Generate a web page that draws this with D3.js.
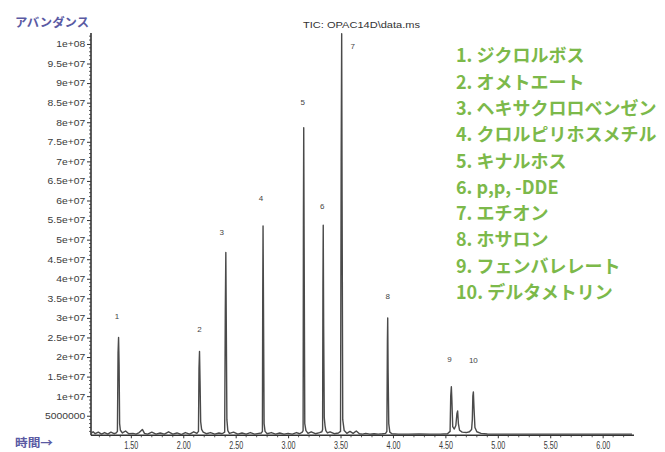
<!DOCTYPE html>
<html><head><meta charset="utf-8">
<script src="https://cdn.jsdelivr.net/npm/d3@7"></script>
<style>
html,body{margin:0;padding:0;background:#fff;}
svg{display:block;}
</style></head>
<body>
<svg id="chart" width="665" height="452"></svg>
<script>
// ---- data (abundance in millions of counts, time in minutes) ----
const compounds = ["ジクロルボス","オメトエート","ヘキサクロロベンゼン","クロルピリホスメチル","キナルホス","p,p, -DDE","エチオン","ホサロン","フェンバレレート","デルタメトリン"];
const peakIds = ["1","2","3","4","5","6","7","8","9","10"];
const peakTimes = [1.383,2.155,2.406,2.761,3.149,3.335,3.511,3.950,4.557,4.767];
const peakHeights = [25.0,21.4,46.7,53.5,78.6,53.7,102.6,30.0,12.4,11.1];
const yTickValues = [5,10,15,20,25,30,35,40,45,50,55,60,65,70,75,80,85,90,95,100];
const yTickLabels = ["5000000","1e+07","1.5e+07","2e+07","2.5e+07","3e+07","3.5e+07","4e+07","4.5e+07","5e+07","5.5e+07","6e+07","6.5e+07","7e+07","7.5e+07","8e+07","8.5e+07","9e+07","9.5e+07","1e+08"];
const xTickValues = [1.5,2.0,2.5,3.0,3.5,4.0,4.5,5.0,5.5,6.0];
const xTickLabels = ["1.50","2.00","2.50","3.00","3.50","4.00","4.50","5.00","5.50","6.00"];
const trace = [
[1.12,0.5],[1.14,0.9],[1.16,0.4],[1.19,0.8],[1.22,0.3],[1.25,0.7],[1.28,0.3],[1.31,0.8],[1.34,0.4],[1.36,0.6],
[1.372,1.0],[1.378,21],[1.383,25.0],[1.388,18],[1.393,3],[1.40,1.3],[1.42,0.6],[1.45,1.1],[1.48,0.4],[1.52,0.5],
[1.55,0.3],[1.58,0.7],[1.61,1.5],[1.63,0.5],[1.66,0.3],[1.70,0.8],[1.74,0.3],[1.78,0.6],[1.82,0.3],[1.86,0.9],
[1.90,0.3],[1.94,0.6],[1.98,0.2],[2.02,0.7],[2.06,0.3],[2.10,0.9],[2.13,0.5],[2.145,1.0],[2.150,17],[2.155,21.4],
[2.160,14],[2.166,3.5],[2.175,1.5],[2.19,0.8],[2.22,0.4],[2.26,0.7],[2.30,0.3],[2.34,0.6],[2.37,0.4],[2.395,0.8],
[2.401,32],[2.406,46.7],[2.410,30],[2.416,4],[2.425,1.2],[2.44,0.5],[2.48,0.8],[2.52,0.3],[2.56,0.6],[2.60,0.3],
[2.64,0.7],[2.68,0.3],[2.72,0.5],[2.745,0.6],[2.755,1.0],[2.758,36],[2.761,53.5],[2.765,34],[2.771,3],[2.78,1.0],
[2.80,0.4],[2.84,0.7],[2.88,0.3],[2.92,0.6],[2.96,0.3],[3.00,0.5],[3.04,0.3],[3.08,0.7],[3.11,0.4],[3.135,0.8],
[3.143,1.2],[3.146,55],[3.149,78.6],[3.153,48],[3.159,3],[3.17,1.2],[3.19,0.5],[3.22,0.9],[3.26,0.4],[3.30,0.7],
[3.322,0.9],[3.329,1.5],[3.332,38],[3.335,53.7],[3.339,28],[3.345,4.5],[3.352,2.5],[3.36,1.2],[3.375,0.6],[3.40,0.9],
[3.44,0.4],[3.48,0.6],[3.500,1.0],[3.506,70],[3.511,102.6],[3.515,60],[3.521,4],[3.535,1.2],[3.56,0.5],[3.59,1.0],
[3.62,0.5],[3.65,1.1],[3.68,0.4],[3.71,0.3],[3.74,0.5],[3.78,0.3],[3.82,0.4],[3.86,0.3],[3.90,0.4],[3.93,0.5],
[3.942,1.0],[3.947,24],[3.950,30.0],[3.954,16],[3.960,3],[3.97,0.8],[3.99,0.4],[4.05,0.3],[4.15,0.3],[4.25,0.35],
[4.35,0.3],[4.45,0.3],[4.52,0.4],[4.545,1.0],[4.551,10],[4.557,12.4],[4.562,9],[4.57,2.2],[4.585,1.6],[4.600,2.5],
[4.610,5.5],[4.617,6.2],[4.624,3],[4.635,1.3],[4.66,0.8],[4.70,0.7],[4.73,0.9],[4.75,1.5],[4.757,4],[4.762,10],
[4.767,11.1],[4.773,7],[4.782,2],[4.80,0.9],[4.84,0.5],[4.90,0.35],[5.00,0.3],[5.20,0.3],[5.40,0.3],[5.60,0.3],
[5.80,0.3],[6.00,0.3],[6.20,0.3],[6.28,0.3]
];
const titleText = "TIC: OPAC14D\\data.ms";
const yAxisTitle = "アバンダンス";
const xAxisTitle = "時間→";

// ---- drawing ----
(function draw(){
const svg = d3.select("#chart");
const pLeft = 91, pRight = 632, pTop = 33, pBottom = 435.3;
const x = d3.scaleLinear().domain([1.12, 6.28]).range([pLeft, pRight]);
const y = d3.scaleLinear().domain([0, 102.8]).range([pBottom, pTop]);
const axisColor = "#333";
const purple = "#5a5aa3";

// y axis
const yAxis = svg.append("g").attr("transform", `translate(${pLeft},0)`)
  .call(d3.axisLeft(y).tickValues(yTickValues).tickSize(4).tickFormat((d,i)=>yTickLabels[i]));
yAxis.select(".domain").remove();
yAxis.selectAll(".tick line").attr("stroke", axisColor).attr("stroke-width", 1);
yAxis.selectAll(".tick text")
  .attr("font-family", "Liberation Sans, Arial, sans-serif").attr("font-size", 9)
  .attr("fill", "#3a3a3a").attr("x", -5)
  .attr("transform", "scale(1.15,1)");
// minor ticks
const minorY = d3.range(1, 103, 1).filter(v => v % 5 !== 0);
svg.append("g").selectAll("line").data(minorY).join("line")
  .attr("x1", pLeft - 2).attr("x2", pLeft).attr("y1", d => y(d)).attr("y2", d => y(d))
  .attr("stroke", axisColor).attr("stroke-width", 0.8);
svg.append("line").attr("x1", pLeft).attr("x2", pLeft).attr("y1", pTop).attr("y2", pBottom)
  .attr("stroke", axisColor).attr("stroke-width", 1.6);

// x axis
const xAxis = svg.append("g").attr("transform", `translate(0,${pBottom})`)
  .call(d3.axisBottom(x).tickValues(xTickValues).tickSize(3).tickPadding(4).tickFormat((d,i)=>xTickLabels[i]));
xAxis.select(".domain").remove();
xAxis.selectAll(".tick line").attr("stroke", axisColor).attr("stroke-width", 1);
xAxis.selectAll(".tick text")
  .attr("font-family", "Liberation Sans, Arial, sans-serif").attr("font-size", 10)
  .attr("fill", "#3a3a3a")
  .attr("transform", "scale(0.72,1)");
const minorX = d3.range(1.2, 6.25, 0.1).filter(v => Math.abs(v*2 - Math.round(v*2)) > 0.01);
svg.append("g").selectAll("line").data(minorX).join("line")
  .attr("x1", d => x(d)).attr("x2", d => x(d)).attr("y1", pBottom).attr("y2", pBottom + 2)
  .attr("stroke", axisColor).attr("stroke-width", 0.8);
svg.append("line").attr("x1", pLeft).attr("x2", pRight + 2).attr("y1", pBottom).attr("y2", pBottom)
  .attr("stroke", axisColor).attr("stroke-width", 1.4);

// trace
const line = d3.line().x(d => x(d[0])).y(d => y(d[1]));
svg.append("path").datum(trace).attr("d", line)
  .attr("fill", "none").attr("stroke", "#4a4a4a").attr("stroke-width", 1.4)
  .attr("stroke-linejoin", "round");

// peak labels
const labelShift = [[-1.5,-21],[0,-22],[-4,-20],[-2,-27],[-1,-25],[-1,-19],[11,13],[0,-21],[-2,-27],[0,-31]];
svg.append("g").selectAll("text").data(peakIds).join("text")
  .attr("x", (d,i) => x(peakTimes[i]) + labelShift[i][0])
  .attr("y", (d,i) => y(peakHeights[i]) + labelShift[i][1])
  .attr("text-anchor", "middle").attr("dominant-baseline", "central")
  .attr("font-family", "Liberation Sans, Arial, sans-serif").attr("font-size", 8)
  .attr("fill", "#444").text(d => d);

// title
svg.append("text").attr("x", 303).attr("y", 27.5).attr("textLength", 117).attr("lengthAdjust", "spacingAndGlyphs")
  .attr("font-family", "Liberation Sans, Arial, sans-serif").attr("font-size", 9.5)
  .attr("fill", "#333").text(titleText);

// axis titles
svg.append("text").attr("x", 15).attr("y", 27).attr("textLength", 74).attr("lengthAdjust", "spacingAndGlyphs")
  .attr("font-family", "Noto Sans CJK JP").attr("font-weight", "bold").attr("font-size", 12)
  .attr("fill", purple).text(yAxisTitle);
svg.append("text").attr("x", 15).attr("y", 447).attr("textLength", 38).attr("lengthAdjust", "spacingAndGlyphs")
  .attr("font-family", "Noto Sans CJK JP").attr("font-weight", "bold").attr("font-size", 11)
  .attr("fill", purple).text(xAxisTitle);

// legend
svg.append("g").selectAll("text").data(compounds).join("text")
  .attr("x", 456).attr("y", (d,i) => 62.3 + i * 26.3)
  .attr("font-family", "Noto Sans CJK JP").attr("font-weight", "bold").attr("font-size", 18)
  .attr("fill", "#7cb94a").text((d,i) => `${peakIds[i]}. ${d}`);
})();
</script>
</body></html>
